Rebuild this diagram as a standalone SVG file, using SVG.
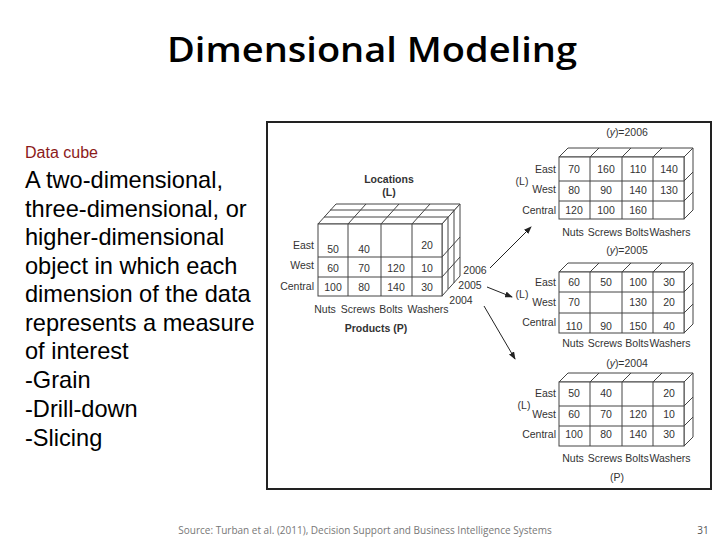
<svg xmlns="http://www.w3.org/2000/svg" width="720" height="540" viewBox="0 0 720 540">
<style>
.t{font-family:"Liberation Sans",Arial,sans-serif;fill:#000}
.s{font-family:"Liberation Sans",Arial,sans-serif;font-size:10.5px;fill:#333}
.c{fill:#fff;stroke:#444;stroke-width:1}
.g{fill:none;stroke:#444;stroke-width:1}
.a{fill:none;stroke:#222;stroke-width:1}
</style>
<defs>
<marker id="ah" markerWidth="8" markerHeight="6" refX="7" refY="3" orient="auto" markerUnits="userSpaceOnUse"><path d="M0,0 L8,3 L0,6 Z" fill="#222"/></marker>
</defs>
<rect width="720" height="540" fill="#fff"/>
<text x="372" y="62" text-anchor="middle" font-family="Open Sans, sans-serif" font-size="34" font-weight="600" textLength="410" lengthAdjust="spacingAndGlyphs" fill="#000">Dimensional Modeling</text>
<g id="text">
<text x="25" y="158" font-family="Liberation Sans, Arial, sans-serif" font-size="16" fill="#8b1a1a">Data cube</text>
<g class="t" font-size="23.6">
<text x="25" y="188">A two-dimensional,</text>
<text x="25" y="217">three-dimensional, or</text>
<text x="25" y="245">higher-dimensional</text>
<text x="25" y="274">object in which each</text>
<text x="25" y="302">dimension of the data</text>
<text x="25" y="331">represents a measure</text>
<text x="25" y="359">of interest</text>
<text x="25" y="388">-Grain</text>
<text x="25" y="417">-Drill-down</text>
<text x="25" y="446">-Slicing</text>
</g>
</g>
<g id="frame"><rect x="267" y="122" width="444" height="367" fill="#fff" stroke="#222" stroke-width="2"/></g>
<g id="cube">
<path class="c" d="M318,224 L336,204 L460,204 L442,224 Z"/>
<path class="c" d="M442,224 L460,204 L460,276 L442,296 Z"/>
<path class="g" d="M324,217 L448,217 L448,289 M330,210 L454,210 L454,283 M348,224 L366,204 M381,224 L399,204 M412,224 L430,204 M442,257 L460,237 M442,277 L460,257"/>
<rect class="c" x="318" y="224" width="124" height="72"/>
<path class="g" d="M318,257 H442 M318,277 H442 M348,224 V296 M381,224 V296 M412,224 V296"/>
<g class="s" text-anchor="end"><text x="314" y="249">East</text><text x="314" y="269">West</text><text x="314" y="290">Central</text></g>
<g class="s" text-anchor="middle">
<text x="333" y="253">50</text><text x="364" y="253">40</text><text x="427" y="249">20</text>
<text x="333" y="272">60</text><text x="364" y="272">70</text><text x="396" y="272">120</text><text x="427" y="272">10</text>
<text x="333" y="291">100</text><text x="364" y="291">80</text><text x="396" y="291">140</text><text x="427" y="291">30</text>
<text x="325" y="313">Nuts</text><text x="358" y="313">Screws</text><text x="391" y="313">Bolts</text><text x="428" y="313">Washers</text>
<text x="389" y="183" font-weight="bold">Locations</text><text x="389" y="196" font-weight="bold">(L)</text>
<text x="376" y="332" font-weight="bold">Products (P)</text>
<text x="475" y="274">2006</text><text x="470" y="289">2005</text><text x="461" y="304">2004</text>
</g>
</g>
<g id="slice2006">
<path class="c" d="M559,157 L568,148 L693,148 L684,157 Z"/>
<path class="c" d="M684,157 L693,148 L693,210 L684,219 Z"/>
<path class="g" d="M590,157 L599,148 M622,157 L631,148 M653,157 L662,148 M684,181 L693,172 M684,201 L693,192"/>
<rect class="c" x="559" y="157" width="125" height="62"/>
<path class="g" d="M559,181 H684 M559,201 H684 M590,157 V219 M622,157 V219 M653,157 V219"/>
<g class="s" text-anchor="end"><text x="556" y="173">East</text><text x="556" y="193">West</text><text x="556" y="214">Central</text></g>
<g class="s" text-anchor="middle">
<text x="627" y="136">(<tspan font-style="italic">y</tspan>)=2006</text>
<text x="522" y="185">(L)</text>
<text x="574" y="173">70</text><text x="606" y="173">160</text><text x="638" y="173">110</text><text x="669" y="173">140</text>
<text x="574" y="194">80</text><text x="606" y="194">90</text><text x="638" y="194">140</text><text x="669" y="194">130</text>
<text x="574" y="214">120</text><text x="606" y="214">100</text><text x="638" y="214">160</text>
<text x="573" y="236">Nuts</text><text x="605" y="236">Screws</text><text x="637" y="236">Bolts</text><text x="670" y="236">Washers</text>
</g>
</g>
<g id="slice2005">
<path class="c" d="M559,272 L568,263 L693,263 L684,272 Z"/>
<path class="c" d="M684,272 L693,263 L693,324 L684,333 Z"/>
<path class="g" d="M590,272 L599,263 M622,272 L631,263 M653,272 L662,263 M684,292 L693,283 M684,313 L693,304"/>
<rect class="c" x="559" y="272" width="125" height="61"/>
<path class="g" d="M559,292 H684 M559,313 H684 M590,272 V333 M622,272 V333 M653,272 V333"/>
<g class="s" text-anchor="end"><text x="556" y="286">East</text><text x="556" y="306">West</text><text x="556" y="326">Central</text></g>
<g class="s" text-anchor="middle">
<text x="627" y="254">(<tspan font-style="italic">y</tspan>)=2005</text>
<text x="522" y="298">(L)</text>
<text x="574" y="286">60</text><text x="606" y="286">50</text><text x="638" y="286">100</text><text x="669" y="286">30</text>
<text x="574" y="306">70</text><text x="638" y="306">130</text><text x="669" y="306">20</text>
<text x="574" y="330">110</text><text x="606" y="330">90</text><text x="638" y="330">150</text><text x="669" y="330">40</text>
<text x="573" y="347">Nuts</text><text x="605" y="347">Screws</text><text x="637" y="347">Bolts</text><text x="670" y="347">Washers</text>
</g>
</g>
<g id="slice2004">
<path class="c" d="M559,382 L568,373 L693,373 L684,382 Z"/>
<path class="c" d="M684,382 L693,373 L693,437 L684,446 Z"/>
<path class="g" d="M590,382 L599,373 M622,382 L631,373 M653,382 L662,373 M684,406 L693,397 M684,426 L693,417"/>
<rect class="c" x="559" y="382" width="125" height="64"/>
<path class="g" d="M559,406 H684 M559,426 H684 M590,382 V446 M622,382 V446 M653,382 V446"/>
<g class="s" text-anchor="end"><text x="556" y="397">East</text><text x="556" y="418">West</text><text x="556" y="438">Central</text></g>
<g class="s" text-anchor="middle">
<text x="627" y="367">(<tspan font-style="italic">y</tspan>)=2004</text>
<text x="524" y="409">(L)</text>
<text x="574" y="397">50</text><text x="606" y="397">40</text><text x="669" y="397">20</text>
<text x="574" y="418">60</text><text x="606" y="418">70</text><text x="638" y="418">120</text><text x="669" y="418">10</text>
<text x="574" y="438">100</text><text x="606" y="438">80</text><text x="638" y="438">140</text><text x="669" y="438">30</text>
<text x="573" y="462">Nuts</text><text x="605" y="462">Screws</text><text x="637" y="462">Bolts</text><text x="670" y="462">Washers</text>
<text x="617" y="481">(P)</text>
</g>
</g>
<g id="connectors">
<line class="a" x1="490" y1="268" x2="531" y2="227" marker-end="url(#ah)"/>
<line class="a" x1="487" y1="287" x2="512" y2="297" marker-end="url(#ah)"/>
<line class="a" x1="484" y1="306" x2="515" y2="359" marker-end="url(#ah)"/>
</g>
<text x="365" y="534" text-anchor="middle" font-family="Open Sans, sans-serif" font-size="10" fill="#777">Source: Turban et al. (2011), Decision Support and Business Intelligence Systems</text>
<text x="703" y="534" text-anchor="middle" font-family="Open Sans, sans-serif" font-size="10" fill="#555">31</text>
</svg>
